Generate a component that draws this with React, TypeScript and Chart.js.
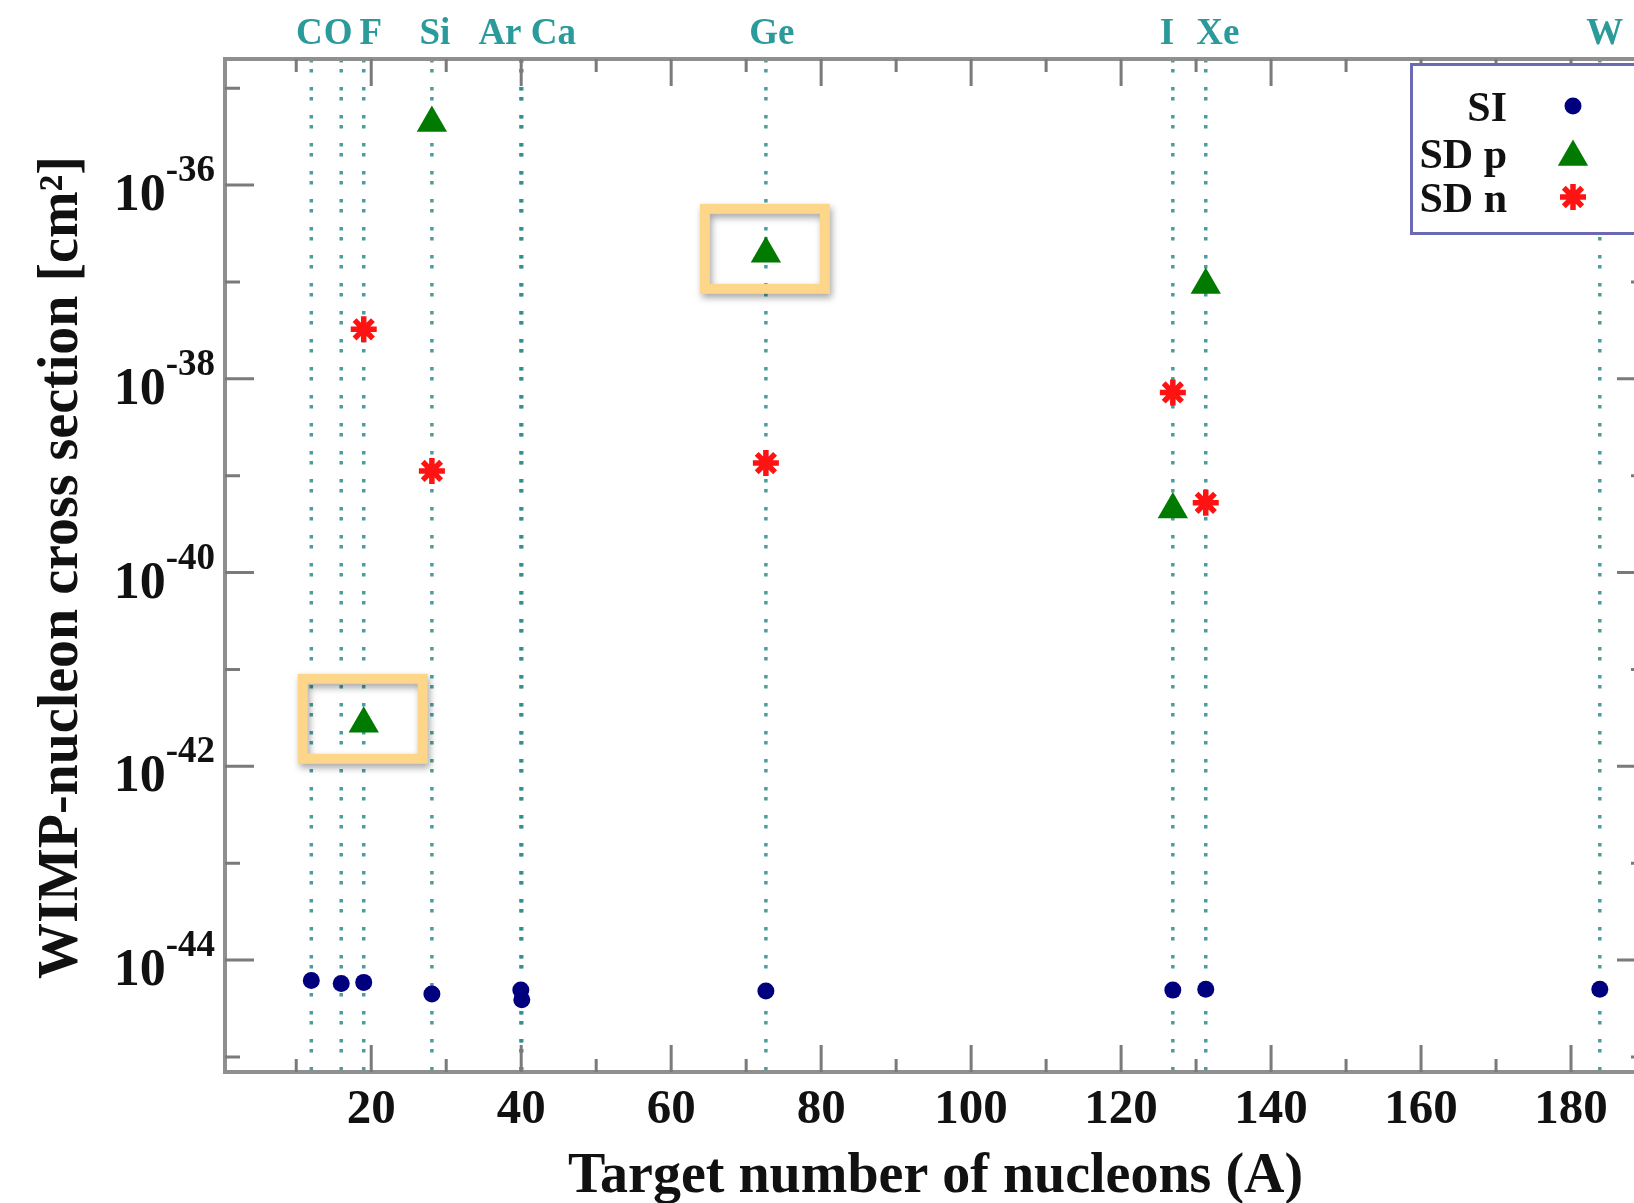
import React, { useEffect, useRef } from "react";
import { Chart, registerables } from "chart.js";

Chart.register(...registerables);

// ---------- data ----------
const targetElements = ["C", "O", "F", "Si", "Ar", "Ca", "Ge", "I", "Xe", "W"];
const targetMass = [12.01, 16.0, 19.0, 28.09, 39.95, 40.08, 72.63, 126.9, 131.29, 183.84];
const siCrossSection = [6.17e-45, 5.75e-45, 5.89e-45, 4.47e-45, 4.9e-45, 3.89e-45, 4.79e-45, 4.9e-45, 5.0e-45, 5.0e-45];

const sdTargets = ["F", "Si", "Ge", "I", "Xe"];
const sdTargetMass = [19.0, 28.09, 72.63, 126.9, 131.29];
const sdProtonCrossSection = [2.75e-42, 4.37e-36, 1.95e-37, 4.47e-40, 9.3e-38];
const sdNeutronCrossSection = [3.24e-38, 1.12e-39, 1.35e-39, 7.24e-39, 5.25e-40];
const highlightedSdProton = ["F", "Ge"];

const topLabels = ["C", "O", "F", "Si", "Ar Ca", "Ge", "I", "Xe", "W"];
const topLabelMass = [12.01, 16.0, 19.0, 28.09, 40.0, 72.63, 126.9, 131.29, 183.84];

const xMajorTicks = [20, 40, 60, 80, 100, 120, 140, 160, 180];
const xMinorTicks = [10, 30, 50, 70, 90, 110, 130, 150, 170, 190];
const yMajorExponents = [-36, -38, -40, -42, -44];
const yMinorExponents = [-35, -37, -39, -41, -43, -45];

const legendLabels = ["SI", "SD p", "SD n"];
const xTitle = "Target number of nucleons (A)";
const yTitle = "WIMP-nucleon cross section [cm²]";

const xRange = [0.5, 190];
const yRange = [7e-46, 2e-35];

// ---------- styles ----------
const SERIF = '"Liberation Serif", "Times New Roman", serif';
const SI_COLOR = "#00007f";
const SDP_COLOR = "#007a00";
const SDN_COLOR = "#ff1212";
const TEAL = "#2a9a9a";
const LINE_TEAL = "rgba(45,140,140,0.85)";
const AXIS_COLOR = "#8f8f8f";
const TICK_COLOR = "#7a7a7a";
const HIGHLIGHT = "#fdd68a";
const LEGEND_BORDER = "#6a6ab4";
// small horizontal nudges (px) of the element labels above the frame
const topLabelNudge = [-2, -3, 7, 3, 6, 6, -6, 12, 5];

function drawTriangle(ctx: CanvasRenderingContext2D, x: number, y: number, r: number) {
  ctx.beginPath();
  let rad = 0;
  ctx.moveTo(x + Math.sin(rad) * r, y - Math.cos(rad) * r);
  rad += (2 * Math.PI) / 3;
  ctx.lineTo(x + Math.sin(rad) * r, y - Math.cos(rad) * r);
  rad += (2 * Math.PI) / 3;
  ctx.lineTo(x + Math.sin(rad) * r, y - Math.cos(rad) * r);
  ctx.closePath();
  ctx.fill();
}

function drawStar(ctx: CanvasRenderingContext2D, x: number, y: number, r: number) {
  const d = Math.cos(Math.PI / 4) * r;
  ctx.beginPath();
  ctx.moveTo(x - r, y);
  ctx.lineTo(x + r, y);
  ctx.moveTo(x, y - r);
  ctx.lineTo(x, y + r);
  ctx.moveTo(x - d, y - d);
  ctx.lineTo(x + d, y + d);
  ctx.moveTo(x - d, y + d);
  ctx.lineTo(x + d, y - d);
  ctx.stroke();
}

const decorPlugin = {
  id: "decor",
  afterDatasetsDraw(chart: any) {
    const ctx: CanvasRenderingContext2D = chart.ctx;
    const { left, right, top, bottom } = chart.chartArea;
    const xs = chart.scales.x;
    const ys = chart.scales.y;
    ctx.save();

    // highlight boxes around selected SD p points
    highlightedSdProton.forEach((name) => {
      const i = sdTargets.indexOf(name);
      const px = xs.getPixelForValue(sdTargetMass[i]);
      const py = ys.getPixelForValue(sdProtonCrossSection[i]);
      ctx.save();
      ctx.shadowColor = "rgba(0,0,0,0.35)";
      ctx.shadowBlur = 7;
      ctx.shadowOffsetX = 2;
      ctx.shadowOffsetY = 4;
      ctx.strokeStyle = HIGHLIGHT;
      ctx.lineWidth = 10;
      ctx.strokeRect(px - 61, py - 45, 120, 80);
      ctx.restore();
    });

    // frame
    ctx.strokeStyle = AXIS_COLOR;
    ctx.lineWidth = 4;
    ctx.strokeRect(left, top, right - left, bottom - top);

    // ticks (inward)
    ctx.strokeStyle = TICK_COLOR;
    ctx.lineWidth = 3;
    const xTick = (v: number, len: number) => {
      const p = xs.getPixelForValue(v);
      ctx.beginPath();
      ctx.moveTo(p, bottom);
      ctx.lineTo(p, bottom - len);
      ctx.moveTo(p, top);
      ctx.lineTo(p, top + len);
      ctx.stroke();
    };
    const yTick = (e: number, len: number) => {
      const p = ys.getPixelForValue(Math.pow(10, e));
      ctx.beginPath();
      ctx.moveTo(left, p);
      ctx.lineTo(left + len, p);
      ctx.moveTo(right, p);
      ctx.lineTo(right - len, p);
      ctx.stroke();
    };
    xMajorTicks.forEach((v) => xTick(v, 27));
    xMinorTicks.forEach((v) => xTick(v, 13));
    yMajorExponents.forEach((e) => yTick(e, 29));
    yMinorExponents.forEach((e) => yTick(e, 15));

    // x tick labels
    ctx.fillStyle = "#111";
    ctx.font = `bold 49px ${SERIF}`;
    ctx.textAlign = "center";
    ctx.textBaseline = "alphabetic";
    xMajorTicks.forEach((v) => {
      ctx.fillText(String(v), xs.getPixelForValue(v), 1123);
    });

    // y tick labels 10^e
    yMajorExponents.forEach((e) => {
      const p = ys.getPixelForValue(Math.pow(10, e));
      ctx.font = `bold 37px ${SERIF}`;
      const sup = String(e);
      const wSup = ctx.measureText(sup).width;
      ctx.font = `bold 52px ${SERIF}`;
      const wBase = ctx.measureText("10").width;
      const rightEdge = left - 10;
      ctx.textAlign = "left";
      ctx.fillText("10", rightEdge - wSup - wBase, p + 25);
      ctx.font = `bold 37px ${SERIF}`;
      ctx.fillText(sup, rightEdge - wSup, p - 4);
    });

    // element labels above the plot
    ctx.fillStyle = TEAL;
    ctx.font = `bold 37px ${SERIF}`;
    ctx.textAlign = "center";
    topLabels.forEach((lab, i) => {
      ctx.fillText(lab, xs.getPixelForValue(topLabelMass[i]) + topLabelNudge[i], 44);
    });

    // axis titles
    ctx.fillStyle = "#111";
    ctx.font = `bold 56px ${SERIF}`;
    ctx.textAlign = "center";
    ctx.fillText(xTitle, (left + right) / 2, 1192);
    ctx.save();
    ctx.translate(77, (top + bottom) / 2 + 2);
    ctx.rotate(-Math.PI / 2);
    ctx.fillText(yTitle, 0, 0);
    ctx.restore();

    // legend
    const lx = 1411.5;
    const ly = 64.5;
    ctx.fillStyle = "#ffffff";
    ctx.fillRect(lx, ly, 320, 169);
    ctx.strokeStyle = LEGEND_BORDER;
    ctx.lineWidth = 3;
    ctx.strokeRect(lx, ly, 320, 169);
    const rows = [106, 153, 197];
    ctx.font = `bold 42px ${SERIF}`;
    ctx.textAlign = "right";
    ctx.fillStyle = "#111";
    legendLabels.forEach((lab, i) => ctx.fillText(lab, 1507, rows[i] + 15));
    const mx = 1573;
    ctx.fillStyle = SI_COLOR;
    ctx.beginPath();
    ctx.arc(mx, rows[0], 8.5, 0, Math.PI * 2);
    ctx.fill();
    ctx.fillStyle = SDP_COLOR;
    drawTriangle(ctx, mx, rows[1] + 4, 17.5);
    ctx.strokeStyle = SDN_COLOR;
    ctx.lineWidth = 5.5;
    drawStar(ctx, mx, rows[2], 13);

    ctx.restore();
  },
};

export default function App() {
  const canvasRef = useRef<HTMLCanvasElement | null>(null);

  useEffect(() => {
    const canvas = canvasRef.current;
    if (!canvas) return;

    const elementLines = targetElements.map((name, i) => ({
      label: "line-" + name,
      data: [
        { x: targetMass[i], y: yRange[1] },
        { x: targetMass[i], y: yRange[0] },
      ],
      showLine: true,
      borderColor: LINE_TEAL,
      borderWidth: 3.5,
      borderDash: [3.5, 6.5, 3.5, 14.5],
      pointRadius: 0,
      order: 10,
    }));

    const chart = new Chart(canvas, {
      type: "scatter",
      data: {
        datasets: [
          {
            label: "SI",
            data: targetMass.map((x, i) => ({ x, y: siCrossSection[i] })),
            pointStyle: "circle",
            pointRadius: 8.5,
            pointBackgroundColor: SI_COLOR,
            pointBorderColor: SI_COLOR,
            pointBorderWidth: 0,
            order: 1,
          },
          {
            label: "SD p",
            data: sdTargetMass.map((x, i) => ({ x, y: sdProtonCrossSection[i] })),
            pointStyle: "triangle",
            pointRadius: 17.5,
            pointBackgroundColor: SDP_COLOR,
            pointBorderColor: SDP_COLOR,
            pointBorderWidth: 0,
            order: 1,
          },
          {
            label: "SD n",
            data: sdTargetMass.map((x, i) => ({ x, y: sdNeutronCrossSection[i] })),
            pointStyle: "star",
            pointRadius: 13,
            pointBackgroundColor: SDN_COLOR,
            pointBorderColor: SDN_COLOR,
            pointBorderWidth: 5.5,
            order: 1,
          },
          ...elementLines,
        ] as any,
      },
      options: {
        animation: false,
        responsive: false,
        devicePixelRatio: 1,
        events: [],
        layout: { padding: { left: 225, top: 59, right: 54, bottom: 131 } },
        scales: {
          x: { type: "linear", min: xRange[0], max: xRange[1], display: false },
          y: { type: "logarithmic", min: yRange[0], max: yRange[1], display: false },
        },
        plugins: {
          legend: { display: false },
          tooltip: { enabled: false },
        },
      },
      plugins: [decorPlugin],
    });

    return () => chart.destroy();
  }, []);

  return (
    <div
      style={{
        position: "fixed",
        left: 0,
        top: 0,
        width: 1634,
        height: 1203,
        overflow: "hidden",
        background: "#ffffff",
      }}
    >
      <canvas ref={canvasRef} width={1700} height={1203} style={{ display: "block", width: 1700, height: 1203 }} />
    </div>
  );
}
